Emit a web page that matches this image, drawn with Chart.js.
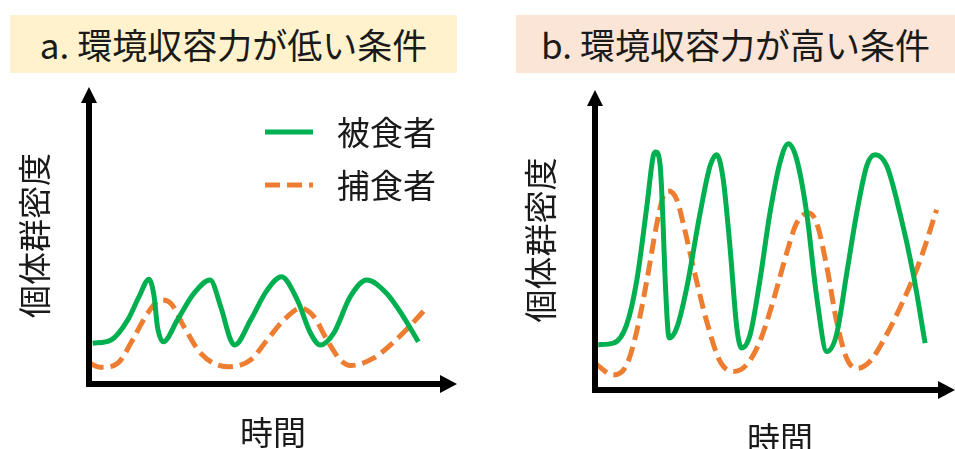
<!DOCTYPE html>
<html>
<head>
<meta charset="utf-8">
<script src="https://cdn.jsdelivr.net/npm/chart.js@4"></script>
<style>
  html, body { margin: 0; padding: 0; background: #fff; }
  body { width: 955px; height: 449px; position: relative; overflow: hidden;
         font-family: "Noto Sans CJK JP", sans-serif; color: #1a1a1a; }
  .title { position: absolute; top: 15px; height: 58px; line-height: 58px;
           text-align: center; font-size: 35px; white-space: nowrap; }
  #titleA { left: 10px; width: 447px; background: #fff2cc; }
  #titleB { left: 516px; width: 439px; background: #fbe5d6; }
  canvas { position: absolute; top: 0; }
  #chartA { left: 0; }
  #chartB { left: 478px; }
</style>
</head>
<body>
<div class="title" id="titleA">a. 環境収容力が低い条件</div>
<div class="title" id="titleB">b. 環境収容力が高い条件</div>
<canvas id="chartA" width="478" height="449"></canvas>
<canvas id="chartB" width="477" height="449"></canvas>
<script>
// series labels and axis titles
const SERIES_NAMES = ['被食者', '捕食者'];
const Y_TITLE = '個体群密度';
const X_TITLE = '時間';

// a. low carrying capacity (time 0-100, density 0-100)
const LOW_PREY_T = [1.0, 6.0, 10.5, 13.6, 16.3, 17.7, 18.6, 20.2, 24.0, 28.5, 32.9, 35.8, 38.5, 39.6, 43.9, 48.4, 52.3, 56.6, 60.2, 62.9, 66.5, 71.0, 75.5, 80.9, 85.4, 89.5];
const LOW_PREY_N = [13.7, 14.8, 21.5, 29.4, 35.3, 29.4, 19.3, 14.2, 21.5, 30.5, 35.0, 26.0, 14.8, 13.1, 21.5, 31.6, 36.1, 28.3, 17.1, 13.1, 17.1, 29.4, 35.0, 30.5, 22.7, 14.2];
const LOW_PRED_T = [0.1, 3.3, 7.8, 12.3, 15.9, 19.5, 22.2, 25.8, 30.4, 37.6, 43.9, 48.4, 52.9, 57.5, 61.1, 64.7, 68.3, 71.0, 77.3, 84.4, 92.1];
const LOW_PRED_N = [7.0, 5.6, 7.0, 15.9, 23.8, 28.3, 27.2, 19.3, 10.3, 5.8, 8.1, 14.8, 21.5, 25.5, 22.7, 14.8, 8.1, 6.2, 8.7, 16.0, 26.1];

// b. high carrying capacity
const HIGH_PREY_T = [0.9, 5.1, 8.8, 11.6, 14.4, 16.2, 16.9, 18.1, 18.8, 19.5, 20.6, 22.7, 25.5, 29.2, 32.0, 33.8, 35.6, 37.5, 39.4, 40.7, 43.1, 45.8, 48.6, 51.4, 53.7, 56.0, 58.8, 61.6, 64.4, 67.1, 69.9, 72.7, 75.5, 77.8, 81.0, 84.7, 88.4, 91.7];
const HIGH_PREY_N = [15.1, 15.6, 21.8, 36.5, 61.2, 78.1, 79.3, 74.8, 59.0, 36.5, 17.3, 20.7, 34.2, 59.0, 74.8, 78.4, 70.3, 47.7, 20.7, 14.0, 18.5, 36.5, 59.0, 75.9, 82.1, 77.0, 59.0, 30.9, 12.8, 18.5, 38.7, 59.0, 74.8, 78.4, 74.8, 59.0, 38.7, 15.6];
const HIGH_PRED_T = [0, 5.1, 8.8, 11.6, 14.4, 17.2, 19.0, 20.4, 22.7, 24.5, 27.3, 31.0, 34.7, 38.4, 42.1, 45.8, 49.5, 53.2, 56.0, 59.3, 61.6, 64.4, 67.1, 69.9, 72.7, 76.4, 81.0, 85.6, 90.3, 94.9];
const HIGH_PRED_N = [8.9, 5.0, 8.4, 19.6, 36.5, 55.6, 64.6, 66.3, 63.5, 55.6, 41.0, 23.0, 9.6, 6.2, 8.4, 16.2, 29.7, 45.5, 55.6, 59.0, 55.6, 41.0, 23.0, 10.6, 7.2, 9.6, 18.5, 29.7, 43.2, 60.1];

const GREEN = '#00b050';
const ORANGE = '#ed7d31';
const FONT = '"Noto Sans CJK JP", sans-serif';

function zip(xs, ys) {
    return xs.map((x, i) => ({ x: x, y: ys[i] }));
}

// black axes with arrow heads plus the axis titles
const arrowAxes = {
    id: 'arrowAxes',
    afterDatasetsDraw(chart, args, opts) {
        const { ctx, chartArea: a } = chart;
        ctx.save();
        ctx.fillStyle = '#000';
        ctx.strokeStyle = '#000';
        ctx.lineWidth = 6;
        ctx.beginPath();
        ctx.moveTo(a.left, a.bottom + 3);
        ctx.lineTo(a.left, a.top + 14);
        ctx.moveTo(a.left - 3, a.bottom);
        ctx.lineTo(a.right - 14, a.bottom);
        ctx.stroke();
        // heads
        ctx.beginPath();
        ctx.moveTo(a.left - 8, a.top + 16);
        ctx.lineTo(a.left, a.top);
        ctx.lineTo(a.left + 8, a.top + 16);
        ctx.closePath();
        ctx.fill();
        ctx.beginPath();
        ctx.moveTo(a.right - 17, a.bottom - 9);
        ctx.lineTo(a.right, a.bottom);
        ctx.lineTo(a.right - 17, a.bottom + 9);
        ctx.closePath();
        ctx.fill();

        ctx.fillStyle = '#1a1a1a';
        ctx.font = '33px ' + FONT;
        ctx.textAlign = 'center';
        ctx.textBaseline = 'middle';
        ctx.fillText(X_TITLE, (a.left + a.right) / 2 + opts.xShift, a.bottom + 48);
        ctx.translate(a.left - 55, (a.top + a.bottom) / 2);
        ctx.rotate(-Math.PI / 2);
        ctx.fillText(Y_TITLE, 0, 0);
        ctx.restore();
    }
};

// legend drawn inside the plot, upper right
const lineLegend = {
    id: 'lineLegend',
    afterDraw(chart, args, opts) {
        if (!opts.show) return;
        const ctx = chart.ctx;
        ctx.save();
        ctx.font = '33px ' + FONT;
        ctx.textBaseline = 'middle';
        ctx.textAlign = 'left';
        chart.data.datasets.forEach((ds, i) => {
            const y = opts.y + i * opts.gap;
            ctx.strokeStyle = ds.borderColor;
            ctx.lineWidth = ds.borderWidth;
            ctx.setLineDash(ds.borderDash || []);
            ctx.beginPath();
            ctx.moveTo(opts.x, y);
            ctx.lineTo(opts.x + 48, y);
            ctx.stroke();
            ctx.setLineDash([]);
            ctx.fillStyle = '#1a1a1a';
            ctx.fillText(ds.label, opts.x + 72, y);
        });
        ctx.restore();
    }
};

function makeChart(id, prey, pred, padding, legend, xShift) {
    new Chart(document.getElementById(id), {
        type: 'line',
        data: {
            datasets: [
                {
                    label: SERIES_NAMES[0],
                    data: prey,
                    borderColor: GREEN,
                    borderWidth: 5,
                    pointRadius: 0,
                    cubicInterpolationMode: 'monotone'
                },
                {
                    label: SERIES_NAMES[1],
                    data: pred,
                    borderColor: ORANGE,
                    borderWidth: 5,
                    borderDash: [15, 7],
                    pointRadius: 0,
                    cubicInterpolationMode: 'monotone'
                }
            ]
        },
        options: {
            responsive: false,
            animation: false,
            layout: { padding: padding },
            scales: {
                x: { type: 'linear', min: 0, max: 100, display: false },
                y: { type: 'linear', min: 0, max: 100, display: false }
            },
            plugins: {
                legend: { display: false },
                tooltip: { enabled: false },
                arrowAxes: { xShift: xShift },
                lineLegend: legend
            }
        },
        plugins: [arrowAxes, lineLegend]
    });
}

makeChart('chartA', zip(LOW_PREY_T, LOW_PREY_N), zip(LOW_PRED_T, LOW_PRED_N),
    { left: 89, right: 21, top: 87, bottom: 65 },
    { show: true, x: 265, y: 132, gap: 53 }, 0);
makeChart('chartB', zip(HIGH_PREY_T, HIGH_PREY_N), zip(HIGH_PRED_T, HIGH_PRED_N),
    { left: 117, right: 0, top: 90, bottom: 59 },
    { show: false }, 5);
</script>
</body>
</html>
